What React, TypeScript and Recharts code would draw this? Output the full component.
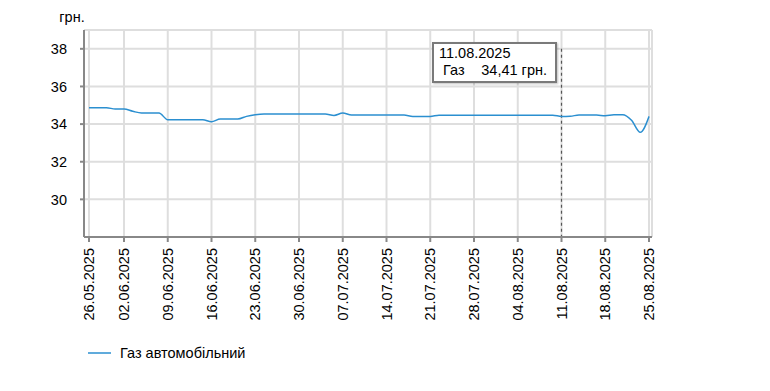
import React from 'react'
import { LineChart, Line, XAxis, YAxis, CartesianGrid, Tooltip, Legend, ReferenceLine } from 'recharts'

const dates = [
  '26.05.2025', '27.05.2025', '28.05.2025', '29.05.2025',
  '02.06.2025', '03.06.2025', '04.06.2025', '05.06.2025', '06.06.2025',
  '09.06.2025', '10.06.2025', '11.06.2025', '12.06.2025', '13.06.2025',
  '16.06.2025', '17.06.2025', '18.06.2025', '19.06.2025', '20.06.2025',
  '23.06.2025', '24.06.2025', '25.06.2025', '26.06.2025', '27.06.2025',
  '30.06.2025', '01.07.2025', '02.07.2025', '03.07.2025', '04.07.2025',
  '07.07.2025', '08.07.2025', '09.07.2025', '10.07.2025', '11.07.2025',
  '14.07.2025', '15.07.2025', '16.07.2025', '17.07.2025', '18.07.2025',
  '21.07.2025', '22.07.2025', '23.07.2025', '24.07.2025', '25.07.2025',
  '28.07.2025', '29.07.2025', '30.07.2025', '31.07.2025', '01.08.2025',
  '04.08.2025', '05.08.2025', '06.08.2025', '07.08.2025', '08.08.2025',
  '11.08.2025', '12.08.2025', '13.08.2025', '14.08.2025', '15.08.2025',
  '18.08.2025', '19.08.2025', '20.08.2025', '21.08.2025', '22.08.2025',
  '25.08.2025',
]

const gasPrices = [
  34.87, 34.87, 34.87, 34.80,
  34.80, 34.68, 34.59, 34.59, 34.59,
  34.23, 34.23, 34.23, 34.23, 34.23,
  34.12, 34.27, 34.27, 34.27, 34.41,
  34.50, 34.54, 34.54, 34.54, 34.54,
  34.54, 34.54, 34.54, 34.54, 34.46,
  34.59, 34.48, 34.48, 34.48, 34.48,
  34.48, 34.48, 34.48, 34.41, 34.41,
  34.41, 34.47, 34.47, 34.47, 34.47,
  34.47, 34.47, 34.47, 34.47, 34.47,
  34.47, 34.47, 34.47, 34.47, 34.47,
  34.41, 34.42, 34.48, 34.48, 34.48,
  34.44, 34.49, 34.49, 34.20, 33.56,
  34.41,
]

const xTicks = [
  '26.05.2025', '02.06.2025', '09.06.2025', '16.06.2025', '23.06.2025',
  '30.06.2025', '07.07.2025', '14.07.2025', '21.07.2025', '28.07.2025',
  '04.08.2025', '11.08.2025', '18.08.2025', '25.08.2025',
]
const yTicks = [30, 32, 34, 36, 38]

const seriesName = 'Газ автомобільний'
const tooltipDate = '11.08.2025'
const font = '"Liberation Sans", Arial, sans-serif'
const fs = 14.5

const data = dates.map((d, i) => ({ date: d, gas: gasPrices[i] }))

const DateTick = ({ x, y, payload }: any) => (
  <g transform={`translate(${x},${y})`}>
    <text transform="rotate(-90)" textAnchor="end" dy="0.36em" fill="#000" fontSize={fs} fontFamily={font}>
      {payload.value}
    </text>
  </g>
)

const TipBox = ({ payload, label }: any) => {
  if (!payload || !payload.length) return null
  const v = Number(payload[0].value).toFixed(2).replace('.', ',')
  return (
    <div style={{
      width: 116, background: '#fff', border: '2px solid #7a7a7a', boxShadow: '1px 1px 2px rgba(0,0,0,0.25)',
      padding: '1px 0 2px 5px', fontFamily: font, fontSize: fs, lineHeight: '17px', color: '#000', boxSizing: 'content-box',
    }}>
      <div>{label}</div>
      <div style={{ display: 'flex', justifyContent: 'space-between', paddingLeft: 4, paddingRight: 8, whiteSpace: 'nowrap' }}>
        <span>Газ</span>
        <span>{v} грн.</span>
      </div>
    </div>
  )
}

const LegendBox = () => (
  <div style={{ display: 'flex', alignItems: 'center', height: 30, fontFamily: font, fontSize: fs, color: '#000' }}>
    <svg width={23} height={4} style={{ marginRight: 9 }}>
      <line x1={0} y1={2} x2={23} y2={2} stroke="#2b8fd0" strokeWidth={1.5} />
    </svg>
    <span>{seriesName}</span>
  </div>
)

export default function App() {
  return (
    <LineChart width={754} height={360} data={data} margin={{ top: 22, right: 110, left: 36, bottom: 0 }}>
      <CartesianGrid stroke="#dedede" strokeWidth={2} />
      <XAxis
        dataKey="date"
        ticks={xTicks}
        interval={0}
        height={101}
        tick={<DateTick />}
        tickSize={5}
        tickMargin={6}
        stroke="#888"
        strokeWidth={2}
        padding={{ left: 5, right: 3 }}
      />
      <YAxis
        domain={[28, 39]}
        ticks={yTicks}
        width={40}
        tickSize={4}
        tickMargin={13}
        stroke="#888"
        strokeWidth={2}
        tick={{ fill: '#000', fontSize: fs, fontFamily: font }}
        label={{ value: 'грн.', position: 'top', offset: 8, dx: 8, fill: '#000', fontSize: fs, fontFamily: font }}
      />
      <ReferenceLine
        segment={[{ x: tooltipDate, y: 38 }, { x: tooltipDate, y: 28 }]}
        stroke="#555"
        strokeWidth={1.2}
        strokeDasharray="3 3"
      />
      <Tooltip
        defaultIndex={dates.indexOf(tooltipDate)}
        active={true}
        cursor={false}
        position={{ x: 424, y: 34 }}
        isAnimationActive={false}
        content={<TipBox />}
        wrapperStyle={{ outline: 'none' }}
      />
      <Legend
        verticalAlign="bottom"
        height={30}
        content={<LegendBox />}
        wrapperStyle={{ left: 80, width: 300 }}
      />
      <Line
        type="monotone"
        dataKey="gas"
        name={seriesName}
        stroke="#2b8fd0"
        strokeWidth={1.5}
        dot={false}
        activeDot={false}
        isAnimationActive={false}
      />
    </LineChart>
  )
}
